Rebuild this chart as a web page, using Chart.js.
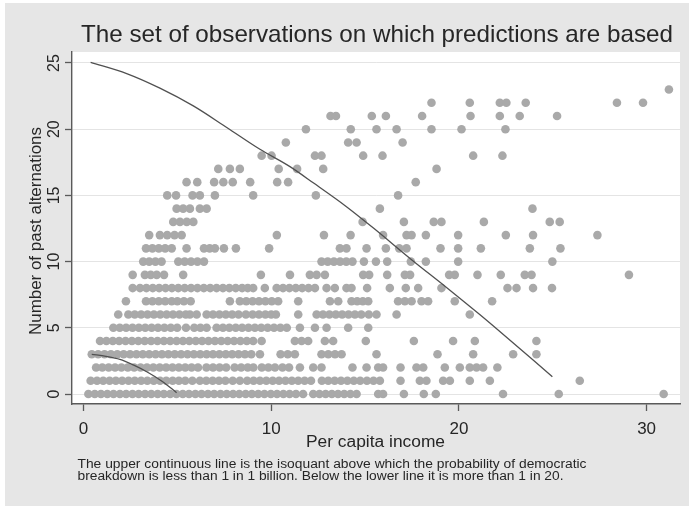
<!DOCTYPE html>
<html>
<head>
<meta charset="utf-8">
<title>Observations</title>
<script src="https://cdn.jsdelivr.net/npm/chart.js@4/dist/chart.umd.min.js"></script>
<style>
  html, body { margin: 0; padding: 0; background: #ffffff; }
  canvas { display: block; }
</style>
</head>
<body>
<canvas id="chart" width="689" height="506"></canvas>
<script>
// Per capita income of each observation, grouped by its number of past alternations (0..23)
const alt0 = [0.26, 0.6, 0.93, 1.27, 1.6, 1.94, 2.27, 2.61, 2.94, 3.28, 3.61, 3.95, 4.28, 4.62, 4.95, 5.29, 5.62, 5.96, 6.29, 6.63, 6.96, 7.3, 7.63, 7.97, 8.3, 8.64, 8.97, 9.31, 9.64, 9.98, 10.31, 10.65, 10.98, 11.32, 11.7, 12.24, 12.57, 12.9, 13.23, 13.56, 13.89, 14.22, 14.55, 15.7, 15.96, 17.07, 18.13, 18.77, 22.35, 25.32, 30.91];
const alt1 = [0.38, 0.72, 1.05, 1.39, 1.72, 2.06, 2.4, 2.73, 3.07, 3.4, 3.74, 4.08, 4.41, 4.75, 5.08, 5.42, 5.8, 6.2, 6.54, 6.88, 7.22, 7.56, 7.95, 8.33, 8.72, 9.06, 9.4, 9.74, 10.08, 10.42, 10.76, 11.1, 11.44, 11.78, 12.12, 12.7, 13.04, 13.38, 13.72, 14.06, 14.4, 14.74, 15.1, 15.45, 15.79, 16.89, 17.92, 18.27, 19.16, 19.52, 20.58, 21.65, 26.44];
const alt2 = [0.67, 1.0, 1.34, 1.68, 2.02, 2.36, 2.7, 3.04, 3.38, 3.72, 4.06, 4.4, 4.74, 5.08, 5.42, 5.76, 6.1, 6.55, 6.9, 7.25, 7.6, 8.05, 8.4, 8.75, 9.05, 9.5, 9.85, 10.2, 10.6, 10.95, 11.53, 12.24, 12.68, 14.33, 15.08, 15.7, 15.96, 16.89, 17.74, 18.1, 19.25, 20.05, 20.58, 20.94, 21.29, 22.05];
const alt3 = [0.44, 0.78, 1.12, 1.46, 1.8, 2.14, 2.48, 2.82, 3.16, 3.5, 3.84, 4.18, 4.52, 4.86, 5.2, 5.54, 5.88, 6.22, 6.56, 6.9, 7.24, 7.58, 7.92, 8.26, 8.6, 8.94, 9.4, 10.5, 10.88, 11.26, 12.68, 13.04, 13.4, 13.75, 15.61, 18.86, 20.76, 22.89, 24.13];
const alt4 = [0.88, 1.22, 1.56, 1.9, 2.24, 2.58, 2.92, 3.26, 3.6, 3.94, 4.28, 4.62, 4.96, 5.3, 5.64, 5.98, 6.32, 6.66, 7.0, 7.34, 7.68, 8.02, 8.36, 8.7, 9.04, 9.49, 11.26, 11.62, 11.97, 12.86, 13.3, 15.04, 17.6, 19.69, 20.85, 24.13];
const alt5 = [1.59, 1.93, 2.27, 2.61, 2.95, 3.29, 3.63, 3.97, 4.31, 4.65, 4.99, 5.46, 5.9, 6.23, 6.56, 7.09, 7.43, 7.77, 8.11, 8.45, 8.79, 9.13, 9.47, 9.81, 10.15, 10.49, 10.83, 11.53, 12.33, 12.95, 14.1, 15.17];
const alt6 = [1.85, 2.39, 2.73, 3.07, 3.41, 3.75, 4.09, 4.43, 4.77, 5.11, 5.45, 5.67, 6.03, 6.56, 6.9, 7.24, 7.58, 7.92, 8.26, 8.65, 9.01, 9.35, 9.69, 10.0, 10.25, 11.44, 12.42, 12.76, 13.1, 13.44, 13.78, 14.12, 14.46, 14.8, 15.2, 15.61, 16.68, 20.58];
const alt7 = [2.26, 3.33, 3.67, 4.01, 4.35, 4.7, 5.0, 5.35, 5.71, 7.8, 8.33, 8.67, 9.01, 9.35, 9.69, 10.03, 10.37, 11.44, 13.13, 13.57, 14.28, 14.58, 14.88, 15.17, 16.76, 17.12, 17.48, 18.01, 18.36, 19.78, 21.77];
const alt8 = [2.62, 3.01, 3.35, 3.69, 4.03, 4.37, 4.71, 5.05, 5.39, 5.73, 6.07, 6.41, 6.75, 7.09, 7.43, 7.77, 8.11, 8.45, 8.75, 9.04, 9.66, 10.29, 10.63, 10.97, 11.31, 11.65, 11.99, 12.33, 12.95, 13.39, 14.01, 14.28, 15.11, 16.32, 17.17, 17.83, 19.07, 22.59, 23.07, 23.95, 24.96];
const alt9 = [2.62, 3.27, 3.58, 3.9, 4.29, 5.31, 9.45, 11.0, 12.06, 12.42, 12.86, 14.9, 15.22, 16.18, 17.12, 17.4, 19.48, 19.78, 20.99, 22.23, 23.51, 23.87, 29.06];
const alt10 = [3.18, 3.5, 3.83, 4.16, 5.05, 5.39, 5.73, 6.07, 6.42, 12.68, 13.01, 13.34, 13.67, 14.0, 14.33, 14.94, 15.58, 16.18, 17.44, 18.24, 19.96, 24.98];
const alt11 = [3.33, 3.67, 4.01, 4.35, 4.7, 5.49, 6.42, 6.72, 7.0, 7.48, 8.12, 9.89, 13.66, 14.01, 15.08, 16.11, 16.82, 17.21, 19.02, 19.96, 21.17, 23.78, 25.41];
const alt12 = [3.5, 4.07, 4.46, 4.85, 5.23, 10.3, 12.81, 14.23, 15.96, 17.21, 17.48, 18.24, 19.96, 22.5, 23.95, 27.38];
const alt13 = [4.78, 5.14, 5.5, 5.85, 14.87, 17.07, 18.66, 19.07, 21.33, 24.84, 25.37];
const alt14 = [4.96, 5.31, 5.67, 6.2, 6.56, 15.79, 23.92];
const alt15 = [4.46, 4.93, 5.81, 6.2, 7.0, 9.04, 12.38, 16.76];
const alt16 = [5.49, 6.06, 6.96, 7.45, 7.95, 8.88, 10.32, 10.9, 17.7];
const alt17 = [7.18, 7.8, 8.33, 10.4, 11.38, 12.77, 18.81];
const alt18 = [9.49, 10.02, 12.33, 12.68, 14.9, 15.93, 20.76, 22.32];
const alt19 = [10.78, 14.1, 14.55, 17.0];
const alt20 = [11.85, 14.24, 15.61, 16.68, 18.54, 20.14, 22.48];
const alt21 = [13.16, 13.45, 15.36, 16.11, 18.04, 20.62, 22.18, 23.24, 25.23];
const alt22 = [18.54, 20.58, 22.18, 22.53, 23.56, 28.42, 29.81];
const alt23 = [31.19];

// Isoquants: upper (breakdown probability below 1 in 1 billion), lower (above 1 in 20)
const upperIncome = [0.38, 2.3, 4.07, 5.85, 7.63, 9.4, 11.0, 12.24, 14.01, 15.43, 17.56, 19.34, 21.11, 22.18, 24.98];
const upperAlternations = [25.05, 24.2, 23.1, 21.76, 20.13, 18.48, 17.17, 15.95, 14.15, 12.55, 10.05, 8.05, 6.0, 4.72, 1.31];
const lowerIncome = [0.44, 1.2, 1.94, 2.65, 3.37, 4.2, 4.96];
const lowerAlternations = [3.0, 2.85, 2.62, 2.2, 1.68, 0.95, 0.1];

// Axis ticks
const xTicks = [0, 10, 20, 30];
const yTicks = [0, 5, 10, 15, 20, 25];

// Texts
const chartTitle = 'The set of observations on which predictions are based';
const xTitle = 'Per capita income';
const yTitle = 'Number of past alternations';
const noteLines = [
  'The upper continuous line is the isoquant above which the probability of democratic',
  'breakdown is less than 1 in 1 billion. Below the lower line it is more than 1 in 20.'
];

const altLevels = [alt0, alt1, alt2, alt3, alt4, alt5, alt6, alt7, alt8, alt9, alt10, alt11,
  alt12, alt13, alt14, alt15, alt16, alt17, alt18, alt19, alt20, alt21, alt22, alt23];

const observations = [];
altLevels.forEach((incomes, level) => {
  incomes.forEach(x => observations.push({ x: x, y: level }));
});

const FONT = '"Liberation Sans", Arial, Helvetica, sans-serif';
const INK = '#262626';
const AXIS = '#5a5a5a';

// Draw text stretched/condensed horizontally to a given width
function fittedText(ctx, text, x, y, width, align) {
  const w = ctx.measureText(text).width;
  ctx.save();
  ctx.translate(x, y);
  ctx.scale(width / w, 1);
  ctx.textAlign = align;
  ctx.fillText(text, 0, 0);
  ctx.restore();
}

const backdrop = {
  id: 'backdrop',
  beforeDraw(chart) {
    const ctx = chart.ctx;
    const a = chart.chartArea;
    ctx.save();
    ctx.fillStyle = '#ffffff';
    ctx.fillRect(0, 0, chart.width, chart.height);
    ctx.fillStyle = '#e6e6e6';
    ctx.fillRect(5, 3, chart.width - 5, chart.height - 3);
    ctx.fillStyle = '#ffffff';
    ctx.fillRect(a.left, a.top, a.right - a.left, a.bottom - a.top);
    ctx.restore();
  }
};

const labels = {
  id: 'labels',
  afterDraw(chart) {
    const ctx = chart.ctx;
    const xs = chart.scales.x;
    const ys = chart.scales.y;
    ctx.save();
    ctx.fillStyle = INK;
    ctx.textBaseline = 'alphabetic';

    // title
    ctx.font = '24px ' + FONT;
    fittedText(ctx, chartTitle, 377, 41.5, 592, 'center');

    // x tick labels
    ctx.font = '17px ' + FONT;
    ctx.textAlign = 'center';
    xTicks.forEach(v => {
      ctx.fillText(String(v), xs.getPixelForValue(v), 434);
    });

    // x axis title
    ctx.font = '16px ' + FONT;
    fittedText(ctx, xTitle, 375.5, 446.5, 139, 'center');

    // y tick labels (vertical, reading upward)
    ctx.font = '16px ' + FONT;
    yTicks.forEach(v => {
      const py = ys.getPixelForValue(v);
      ctx.save();
      ctx.translate(59, py);
      ctx.rotate(-Math.PI / 2);
      ctx.textAlign = 'center';
      ctx.fillText(String(v), 0, 0);
      ctx.restore();
    });

    // y axis title
    ctx.font = '17px ' + FONT;
    ctx.save();
    ctx.translate(40.5, 231);
    ctx.rotate(-Math.PI / 2);
    fittedText(ctx, yTitle, 0, 0, 208, 'center');
    ctx.restore();

    // note
    ctx.font = '12px ' + FONT;
    fittedText(ctx, noteLines[0], 77.5, 467.7, 509, 'left');
    fittedText(ctx, noteLines[1], 77.5, 480.4, 486, 'left');

    ctx.restore();
  }
};

new Chart(document.getElementById('chart').getContext('2d'), {
  type: 'scatter',
  data: {
    datasets: [
      {
        type: 'line',
        data: upperIncome.map((x, i) => ({ x: x, y: upperAlternations[i] })),
        borderColor: '#505050',
        borderWidth: 1.3,
        pointRadius: 0,
        fill: false,
        cubicInterpolationMode: 'monotone',
        order: 0
      },
      {
        type: 'line',
        data: lowerIncome.map((x, i) => ({ x: x, y: lowerAlternations[i] })),
        borderColor: '#505050',
        borderWidth: 1.3,
        pointRadius: 0,
        fill: false,
        cubicInterpolationMode: 'monotone',
        order: 0
      },
      {
        data: observations,
        backgroundColor: '#a9a9a9',
        borderWidth: 0,
        pointRadius: 4.3,
        pointHoverRadius: 4.3,
        order: 1
      }
    ]
  },
  options: {
    responsive: false,
    animation: false,
    devicePixelRatio: 1,
    events: [],
    layout: { padding: { top: 52, right: 9, bottom: 0, left: 0 } },
    plugins: {
      legend: { display: false },
      title: { display: false },
      tooltip: { enabled: false }
    },
    scales: {
      x: {
        type: 'linear',
        min: -0.613,
        max: 31.78,
        afterBuildTicks: s => { s.ticks = xTicks.map(v => ({ value: v })); },
        afterFit: s => { s.height = 102; },
        ticks: { display: false },
        grid: { drawOnChartArea: false, drawTicks: true, tickLength: 7, tickColor: AXIS, tickWidth: 1.3 },
        border: { color: AXIS, width: 1.4 }
      },
      y: {
        type: 'linear',
        min: -0.755,
        max: 25.83,
        afterBuildTicks: s => { s.ticks = yTicks.map(v => ({ value: v })); },
        afterFit: s => { s.width = 72; },
        ticks: { display: false },
        grid: { color: '#e4e4e4', lineWidth: 1, drawTicks: true, tickLength: 7, tickColor: AXIS, tickWidth: 1.3 },
        border: { color: AXIS, width: 1.4 }
      }
    }
  },
  plugins: [backdrop, labels]
});
</script>
</body>
</html>
